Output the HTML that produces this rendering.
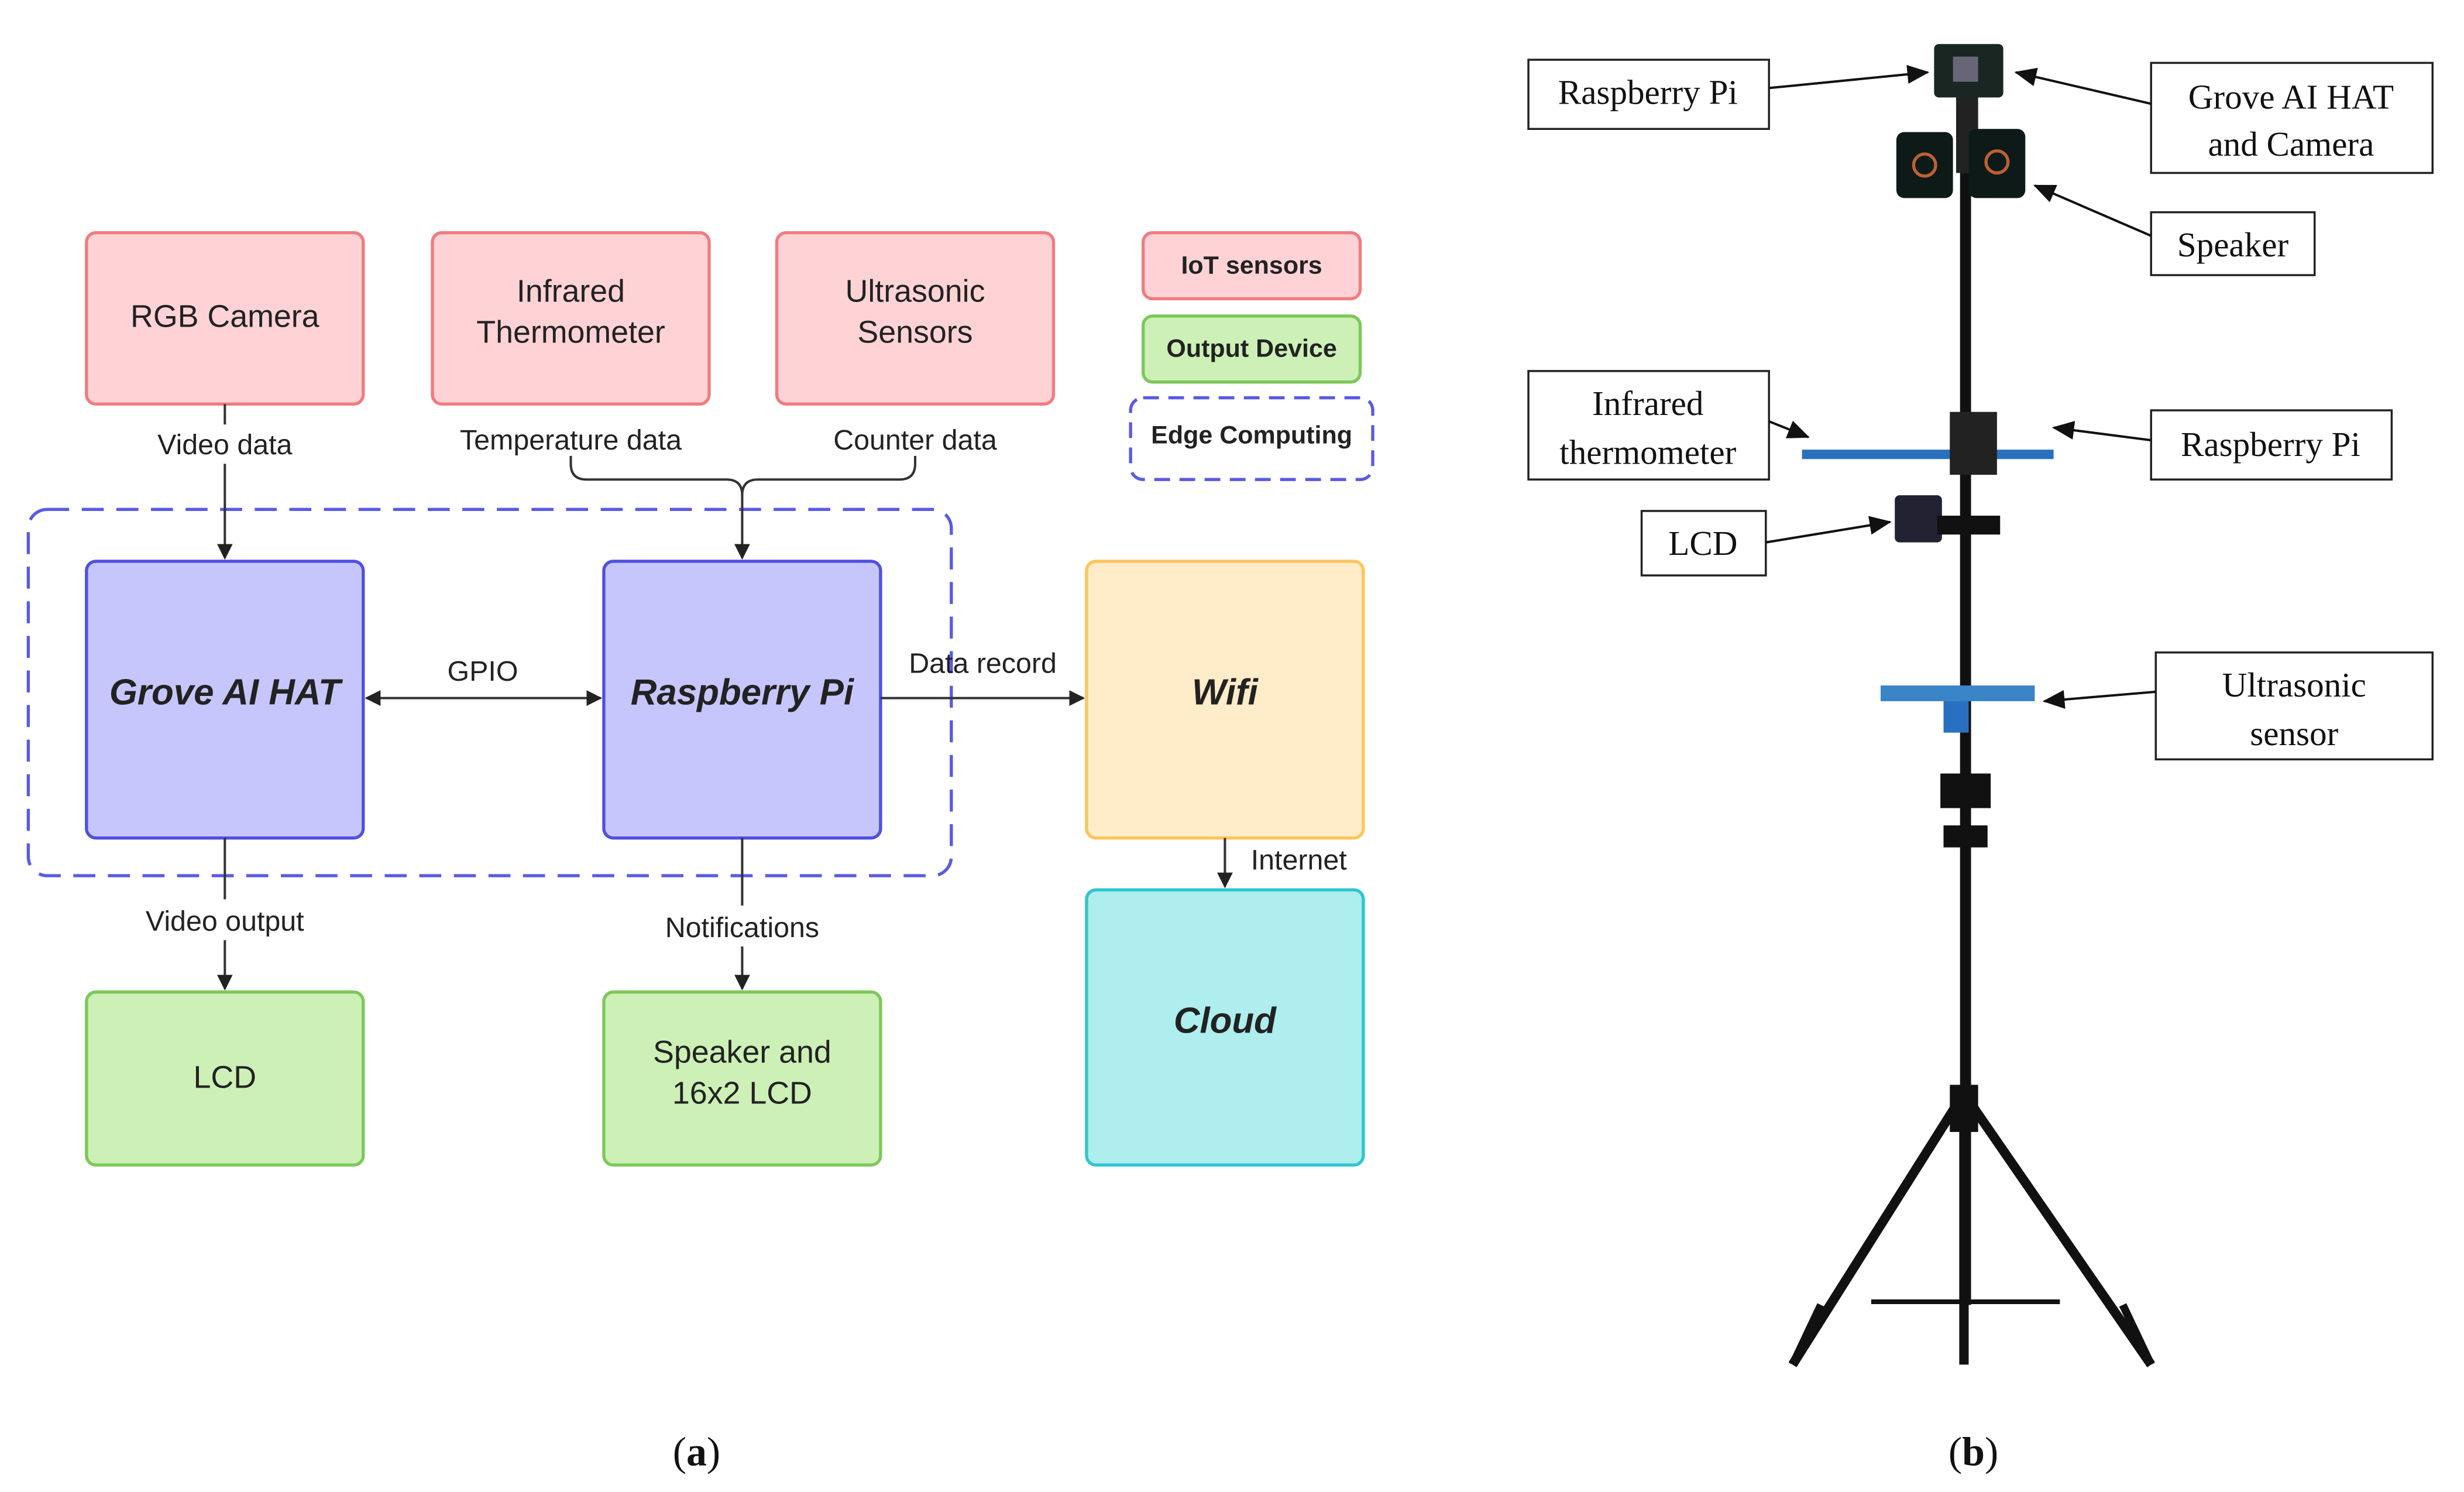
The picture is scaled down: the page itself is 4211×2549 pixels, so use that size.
<!DOCTYPE html>
<html><head><meta charset="utf-8"><style>
html,body{margin:0;padding:0;background:#fff;}
svg{display:block;}
.s{font-family:"Liberation Sans",sans-serif;fill:#222;}
.r{font-family:"Liberation Serif",serif;fill:#111;font-size:22px;}
</style></head><body>
<svg width="4211" height="2549" viewBox="0 0 1567 949" preserveAspectRatio="none" xmlns="http://www.w3.org/2000/svg">
<defs>
<marker id="a" markerWidth="10" markerHeight="10" refX="9" refY="5" orient="auto-start-reverse" markerUnits="userSpaceOnUse"><path d="M0,0 L10,5 L0,10 z" fill="#222"/></marker>
<marker id="b" markerWidth="14" markerHeight="12" refX="13" refY="6" orient="auto" markerUnits="userSpaceOnUse"><path d="M0,0 L14,6 L0,12 z" fill="#111"/></marker>
</defs>
<rect width="1567" height="949" fill="#fff"/>
<g stroke="#f07c80" stroke-width="2" fill="#ffd3d6">
<rect x="55" y="148" width="176" height="109" rx="6"/>
<rect x="275" y="148" width="176" height="109" rx="6"/>
<rect x="494" y="148" width="176" height="109" rx="6"/>
<rect x="727" y="148" width="138" height="42" rx="6"/>
</g>
<rect x="727" y="201" width="138" height="42" rx="6" fill="#ccf0b6" stroke="#7cc85a" stroke-width="2"/>
<rect x="719" y="253" width="154" height="52" rx="8" fill="#fff" stroke="#5a5ae6" stroke-width="2" stroke-dasharray="10,6"/>
<rect x="18" y="324" width="587" height="233" rx="12" fill="none" stroke="#5a5ae6" stroke-width="2" stroke-dasharray="14,8"/>
<g stroke="#5050e0" stroke-width="2" fill="#c6c6fc">
<rect x="55" y="357" width="176" height="176" rx="6"/>
<rect x="384" y="357" width="176" height="176" rx="6"/>
</g>
<rect x="691" y="357" width="176" height="176" rx="6" fill="#ffecc9" stroke="#ffc45c" stroke-width="2"/>
<rect x="691" y="566" width="176" height="175" rx="6" fill="#aeeeee" stroke="#2ec6d0" stroke-width="2"/>
<g stroke="#7cc85a" stroke-width="2" fill="#ccf0b6">
<rect x="55" y="631" width="176" height="110" rx="6"/>
<rect x="384" y="631" width="176" height="110" rx="6"/>
</g>
<g stroke="#333" stroke-width="1.5" fill="none">
<path d="M143 257 V270 M143 295 V355" marker-end="url(#a)"/>
<path d="M363 290 V295 Q363 305 373 305 H462 Q472 305 472 315 V355" marker-end="url(#a)"/>
<path d="M582 290 V295 Q582 305 572 305 H482 Q472 305 472 315"/>
<path d="M233 444 H382" marker-end="url(#a)" marker-start="url(#a)"/>
<path d="M560 444 H689" marker-end="url(#a)"/>
<path d="M779 533 V564" marker-end="url(#a)"/>
<path d="M143 533 V572 M143 598 V629" marker-end="url(#a)"/>
<path d="M472 533 V576 M472 602 V629" marker-end="url(#a)"/>
</g>
<g class="s" font-size="20" text-anchor="middle">
<text x="143" y="208">RGB Camera</text>
<text x="363" y="192">Infrared</text><text x="363" y="218">Thermometer</text>
<text x="582" y="192">Ultrasonic</text><text x="582" y="218">Sensors</text>
<text x="143" y="692">LCD</text>
<text x="472" y="676">Speaker and</text><text x="472" y="702">16x2 LCD</text>
</g>
<g class="s" font-size="16" font-weight="bold" text-anchor="middle">
<text x="796" y="174">IoT sensors</text>
<text x="796" y="227">Output Device</text>
<text x="796" y="282">Edge Computing</text>
</g>
<g class="s" font-size="23" font-weight="bold" font-style="italic" text-anchor="middle">
<text x="143" y="448">Grove AI HAT</text>
<text x="472" y="448">Raspberry Pi</text>
<text x="779" y="448">Wifi</text>
<text x="779" y="657">Cloud</text>
</g>
<g class="s" font-size="18" text-anchor="middle">
<text x="143" y="289" >Video data</text>
<text x="363" y="286">Temperature data</text>
<text x="582" y="286">Counter data</text>
<text x="307" y="433">GPIO</text>
<text x="625" y="428">Data record</text>
<text x="826" y="553">Internet</text>
<text x="143" y="592">Video output</text>
<text x="472" y="596">Notifications</text>
</g>
<text x="443" y="932" text-anchor="middle" font-family="Liberation Serif,serif" font-size="26" fill="#111">(<tspan font-weight="bold">a</tspan>)</text>
<text x="1255" y="932" text-anchor="middle" font-family="Liberation Serif,serif" font-size="26" fill="#111">(<tspan font-weight="bold">b</tspan>)</text>
<g stroke="#111" fill="none">
<path d="M1250 110 V830" stroke-width="7"/>
<path d="M1246 700 L1140 868 M1252 700 L1368 868 M1249 720 L1249 868" stroke-width="6"/>
<path d="M1140 868 L1158 830 M1368 868 L1350 830" stroke-width="5"/>
<path d="M1190 828 H1310" stroke-width="3"/>
</g>
<rect x="1240" y="690" width="18" height="30" fill="#111"/>
<rect x="1244" y="60" width="14" height="50" fill="#222"/>
<rect x="1230" y="28" width="44" height="34" rx="3" fill="#1a2622"/>
<rect x="1242" y="36" width="16" height="16" fill="#667"/>
<rect x="1206" y="84" width="36" height="42" rx="5" fill="#0e1a18"/>
<rect x="1252" y="82" width="36" height="44" rx="5" fill="#0e1a18"/>
<circle cx="1224" cy="105" r="7" fill="none" stroke="#c06030" stroke-width="2"/>
<circle cx="1270" cy="103" r="7" fill="none" stroke="#c06030" stroke-width="2"/>
<rect x="1146" y="286" width="160" height="6" fill="#2a70c0"/>
<rect x="1240" y="262" width="30" height="40" fill="#222"/>
<rect x="1205" y="315" width="30" height="30" fill="#223" rx="3"/>
<rect x="1232" y="328" width="40" height="12" fill="#111"/>
<rect x="1196" y="436" width="98" height="10" fill="#3a84c8"/>
<rect x="1236" y="446" width="16" height="20" fill="#2a70c0"/>
<rect x="1234" y="492" width="32" height="22" fill="#111"/>
<rect x="1236" y="525" width="28" height="14" fill="#111"/>
<g fill="#fff" stroke="#222" stroke-width="1.3">
<rect x="972" y="38" width="153" height="44"/>
<rect x="1368" y="40" width="179" height="70"/>
<rect x="1368" y="135" width="104" height="40"/>
<rect x="972" y="236" width="153" height="69"/>
<rect x="1368" y="261" width="153" height="44"/>
<rect x="1044" y="325" width="79" height="41"/>
<rect x="1371" y="415" width="176" height="68"/>
</g>
<g class="r" text-anchor="middle">
<text x="1048" y="66">Raspberry Pi</text>
<text x="1457" y="69">Grove AI HAT</text><text x="1457" y="99">and Camera</text>
<text x="1420" y="163">Speaker</text>
<text x="1048" y="264">Infrared</text><text x="1048" y="295">thermometer</text>
<text x="1444" y="290">Raspberry Pi</text>
<text x="1083" y="353">LCD</text>
<text x="1459" y="443">Ultrasonic</text><text x="1459" y="474">sensor</text>
</g>
<g stroke="#111" stroke-width="1.5" fill="none">
<path d="M1125 56 L1226 46" marker-end="url(#b)"/>
<path d="M1368 66 L1282 46" marker-end="url(#b)"/>
<path d="M1368 150 L1294 118" marker-end="url(#b)"/>
<path d="M1125 268 L1150 278" marker-end="url(#b)"/>
<path d="M1368 280 L1306 272" marker-end="url(#b)"/>
<path d="M1123 345 L1202 332" marker-end="url(#b)"/>
<path d="M1371 440 L1300 446" marker-end="url(#b)"/>
</g>
</svg>
</body></html>
